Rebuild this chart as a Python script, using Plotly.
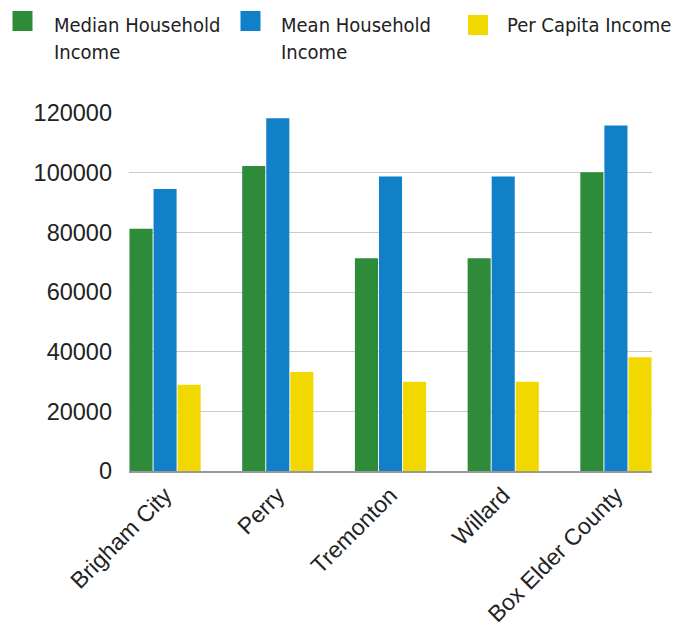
import plotly.graph_objects as go

# Income figures by place
places = ["Brigham City", "Perry", "Tremonton", "Willard", "Box Elder County"]
median_household = [81200, 102200, 71300, 71300, 100100]
mean_household = [94500, 118200, 98700, 98700, 115800]
per_capita = [28900, 33200, 29900, 29900, 38100]

series_names = ["Median Household Income", "Mean Household Income", "Per Capita Income"]
series_values = [median_household, mean_household, per_capita]
colors = ["#2E8B3A", "#1180C9", "#F0D800"]

y_ticks = [0, 20000, 40000, 60000, 80000, 100000, 120000]

W, H = 676, 633
L, R, T, B = 129, 24, 113, 162
plot_w = W - L - R
plot_h = H - T - B

fig = go.Figure()
for name, vals, col in zip(series_names, series_values, colors):
    fig.add_trace(go.Bar(
        x=places, y=vals, name=name,
        marker=dict(color=col, line=dict(width=0)),
        showlegend=False,
    ))


def px_x(p):
    return (p - L) / plot_w


def px_y(p):
    return (H - B - p) / plot_h


# Legend drawn as colour squares with condensed labels
legend_items = [
    (12.5, 11, 52, ["Median Household", "Income"], colors[0]),
    (240.5, 11, 279, ["Mean Household", "Income"], colors[1]),
    (468, 15, 505, ["Per Capita Income"], colors[2]),
]
legend_font = dict(family="DejaVu Sans Condensed, DejaVu Sans, sans-serif",
                   size=20, color="#222222")
shapes = []
annotations = []
for sx, sy, tx, lines, col in legend_items:
    shapes.append(dict(
        type="rect", xref="paper", yref="paper",
        x0=px_x(sx), x1=px_x(sx + 20), y0=px_y(sy + 20), y1=px_y(sy),
        fillcolor=col, line=dict(width=0), layer="above",
    ))
    for i, line in enumerate(lines):
        annotations.append(dict(
            xref="paper", yref="paper", x=px_x(tx), y=px_y(25 + 27 * i),
            xanchor="left", yanchor="middle", showarrow=False,
            text=line, font=legend_font,
        ))

fig.update_layout(
    width=W, height=H,
    margin=dict(l=L, r=R, t=T, b=B, pad=0, autoexpand=False),
    paper_bgcolor="white", plot_bgcolor="white",
    barmode="group", bargap=0.36, bargroupgap=0.04,
    font=dict(family="Liberation Sans, Arial, sans-serif", size=23, color="#222222"),
    shapes=shapes, annotations=annotations,
    hovermode=False,
)
fig.update_xaxes(
    range=[-0.32, 4.32], tickangle=-45, automargin=False,
    showline=True, linecolor="#999999", linewidth=1.5,
    showgrid=False, ticks="", tickfont=dict(size=23, color="#222222"),
)
fig.update_yaxes(
    range=[0, 120000], tickvals=y_ticks, ticktext=[str(v) for v in y_ticks],
    automargin=False,
    showgrid=True, gridcolor="#cccccc", gridwidth=1,
    zeroline=False, showline=False, ticks="",
    ticklabelstandoff=16, tickfont=dict(size=23.5, color="#222222"),
)

fig.write_html("out.html")
